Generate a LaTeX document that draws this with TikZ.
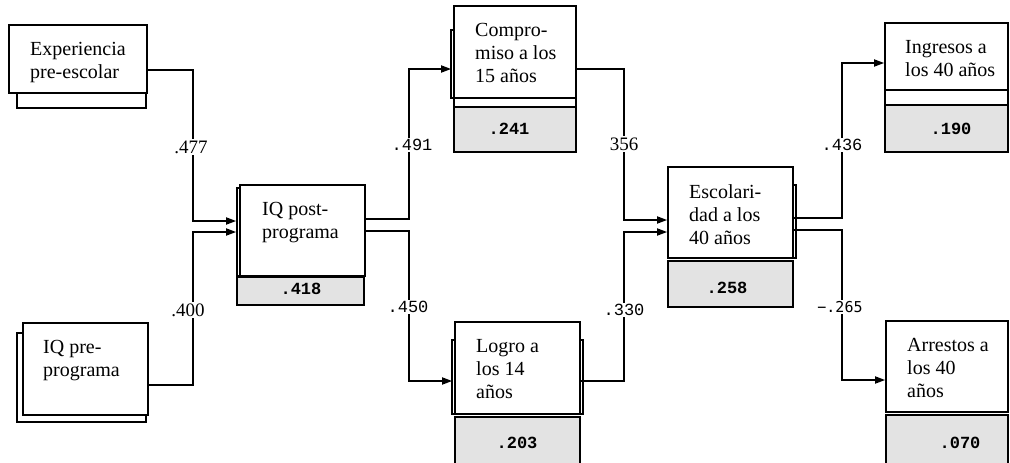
\documentclass[tikz,border=0pt]{standalone}
\usepackage{fontspec}
\setmainfont{Liberation Serif}
\setmonofont{Liberation Mono}
\usetikzlibrary{arrows.meta}
\begin{document}
\begin{tikzpicture}[x=1pt,y=-1pt,
  box/.style={draw, line width=1.7pt, fill=white, rectangle, inner sep=0pt},
  shad/.style={draw, line width=1.2pt, fill=white},
  gbox/.style={draw, line width=1.2pt, fill=black!11},
  txt/.style={anchor=north west, inner sep=0pt, align=left, font=\fontsize{20}{23}\selectfont},
  conn/.style={line width=1.7pt, -{Triangle[length=10pt,width=7pt]}},
  coef/.style={fill=white, inner sep=1.5pt, font=\fontsize{17}{17}\selectfont\ttfamily},
  coefs/.style={fill=white, inner sep=1.5pt, font=\fontsize{19}{19}\selectfont},
  rsq/.style={inner sep=0pt, font=\fontsize{17}{17}\selectfont\ttfamily\bfseries}]
\useasboundingbox (0,0) rectangle (1010,463);

% shadows and gray boxes
\draw[shad] (17,35) rectangle (146,108);
\draw[shad] (17,333) rectangle (146,422);
\draw[shad] (237,188) rectangle (364,276);
\draw[gbox] (237,277) rectangle (364,305);
\draw[shad] (451,30) rectangle (574,98);
\draw[shad] (454,98) rectangle (576,107);
\draw[gbox] (454,107) rectangle (576,152);
\draw[shad] (452,340) rectangle (583,414);
\draw[gbox] (455,417) rectangle (580,470);
\draw[shad] (670,185) rectangle (796,258);
\draw[gbox] (668,261) rectangle (793,307);
\draw[shad] (885,90) rectangle (1008,105);
\draw[gbox] (885,105) rectangle (1008,152);
\draw[gbox] (886,415) rectangle (1008,470);

% main boxes
\node[box, minimum width=138pt, minimum height=68pt] (exp) at (78,59) {};
\node[box, minimum width=125pt, minimum height=92pt] (iqpre) at (85.5,369) {};
\node[box, minimum width=125pt, minimum height=91pt] (iqpost) at (302.5,230.5) {};
\node[box, minimum width=122pt, minimum height=92pt] (comp) at (515,52) {};
\node[box, minimum width=125pt, minimum height=92pt] (logro) at (517.5,368) {};
\node[box, minimum width=125pt, minimum height=91pt] (esc) at (730.5,212.5) {};
\node[box, minimum width=123pt, minimum height=67pt] (ing) at (946.5,56.5) {};
\node[box, minimum width=122pt, minimum height=91pt] (arr) at (947,366.5) {};

% texts
\node[txt] (expt) at (30,42) {Experiencia\\pre-escolar};
\node[txt] (iqpret) at (43,340) {IQ pre-\\programa};
\node[txt] (iqpostt) at (262,202) {IQ post-\\programa};
\node[txt] (compt) at (475,23) {Compro-\\miso a los\\15 años};
\node[txt] (logrot) at (476,339) {Logro a\\los 14\\años};
\node[txt] (esct) at (689,184) {Escolari-\\dad a los\\40 años};
\node[txt] (ingt) at (905,40) {Ingresos a\\los 40 años};
\node[txt] (arrt) at (907,338) {Arrestos a\\los 40\\años};

% R squared values
\node[rsq] (r1) at (301,289) {.418};
\node[rsq] (r2) at (509,129) {.241};
\node[rsq] (r3) at (517,443) {.203};
\node[rsq] (r4) at (727,288) {.258};
\node[rsq] (r5) at (951,129) {.190};
\node[rsq] (r6) at (960,443) {.070};

% connectors
\draw[conn, shorten >=3pt] ([yshift=-11pt]exp.east) -- ++(45,0) |- ([yshift=9.5pt]iqpost.west);
\draw[conn, shorten >=3pt] ([yshift=-16pt]iqpre.east) -- ++(44,0) |- ([yshift=-1.5pt]iqpost.west);
\draw[conn, shorten >=2pt] ([yshift=11.5pt]iqpost.east) -- ++(43,0) |- ([yshift=-17pt]comp.west);
\draw[conn, shorten >=2pt] ([yshift=-0.5pt]iqpost.east) -- ++(43,0) |- ([yshift=-13pt]logro.west);
\draw[conn] ([yshift=-17pt]comp.east) -- ++(47,0) |- ([yshift=-7.5pt]esc.west);
\draw[conn] ([yshift=-13pt]logro.east) -- ++(43,0) |- ([yshift=-19.5pt]esc.west);
\draw[conn] ([yshift=-5.5pt]esc.east) -- ++(48,0) |- ([yshift=-6.5pt]ing.west);
\draw[conn] ([yshift=-17.5pt]esc.east) -- ++(48,0) |- ([yshift=-13.5pt]arr.west);

% coefficients
\node[coefs] (c1) at (191,147) {.477};
\node[coefs] (c2) at (188,310) {.400};
\node[coef] (c3) at (412,145) {.491};
\node[coef] (c4) at (408,307) {.450};
\node[coefs] (c5) at (624,144) {356};
\node[coef] (c6) at (624,310) {.330};
\node[coef] (c7) at (842,145) {.436};
\node[coef] (c8) at (840,307) {\fontspec{DejaVu Sans Mono}\fontsize{15}{15}\selectfont{}−.265};
\end{tikzpicture}
\end{document}
